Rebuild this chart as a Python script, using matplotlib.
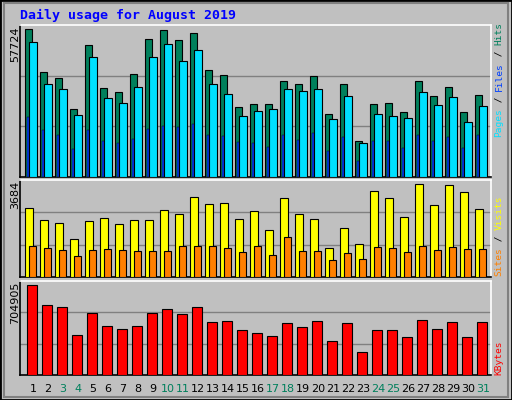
import numpy as np
import matplotlib.pyplot as plt
from matplotlib.patches import Rectangle

days = np.arange(1, 32)
weekend = [3, 4, 10, 11, 17, 18, 24, 25, 31]

hits = [57724, 41233, 38877, 26703, 51444, 34950, 33380, 40448, 53800, 57334, 53407,
        56156, 42019, 40055, 27489, 28667, 28667, 37699, 36521, 39663, 24740, 36521,
        14137, 28667, 29060, 25526, 37699, 31809, 35343, 25526, 32201]
files = [52622, 36521, 34558, 24347, 46731, 31023, 29060, 35343, 46731, 51836, 45161,
         49480, 36521, 32594, 23955, 25918, 26704, 34558, 33772, 34558, 22777, 31809,
         13352, 24740, 23955, 23169, 33380, 28274, 31416, 21599, 27882]
pages = [23562, 18457, 16493, 10996, 18457, 14137, 13352, 14923, 18850, 20028, 19635,
         20813, 16493, 16101, 13745, 13352, 11781, 16493, 14530, 17279, 10210, 15708,
         6283, 14137, 14137, 11388, 16493, 14137, 15708, 11388, 16493]
visits = [2723, 2243, 2123, 1482, 2203, 2323, 2083, 2243, 2243, 2643, 2483, 3164, 2884,
          2924, 2283, 2603, 1842, 3124, 2483, 2283, 1161, 1922, 1322, 3404, 3124, 2363,
          3684, 2844, 3645, 3364, 2683]
sites = [1242, 1161, 1081, 841, 1081, 1121, 1081, 1041, 1041, 1041, 1242, 1242, 1242,
         1161, 1001, 1242, 881, 1562, 1041, 1041, 681, 961, 721, 1202, 1161, 1001, 1242,
         1081, 1202, 1121, 1121]
kbytes = [704905, 549966, 526728, 309840, 480252, 379554, 356316, 379554, 480252,
          511236, 472506, 526728, 410538, 418284, 348570, 325332, 302094, 402792, 371808,
          418284, 263364, 402792, 178158, 348570, 348570, 294348, 426030, 356316, 410538,
          294348, 410538]

W, H = 512, 400
fig = plt.figure(figsize=(W / 100, H / 100), dpi=100)
fig.patch.set_facecolor('#C0C0C0')
# outer border and shadow
fig.add_artist(Rectangle((0, 0), 1, 1, transform=fig.transFigure, fill=False,
                         edgecolor='black', lw=2))
fig.add_artist(Rectangle((4 / W, 3 / H), (W - 8) / W, (H - 6) / H, transform=fig.transFigure,
                         fill=False, edgecolor='#808080', lw=1.5))
mono = 'DejaVu Sans Mono'


def panel(top, bottom):
    ax = fig.add_axes([20 / W, 1 - bottom / H, 471 / W, (bottom - top) / H])
    ax.set_facecolor('#C0C0C0')
    ax.set_xlim(0.13, 31.53)
    ax.set_xticks([])
    ax.set_yticks([])
    for s in ['left', 'bottom']:
        ax.spines[s].set_color('black')
    for s in ['top', 'right']:
        ax.spines[s].set_color('white')
    for s in ax.spines.values():
        s.set_linewidth(1.2)
    return ax


kw = dict(align='edge', edgecolor='black', linewidth=0.8, zorder=3)

ax1 = panel(25, 177)
top1 = 57724 * 454 / 441
ax1.set_ylim(0, top1)
for g in (top1 / 3, 2 * top1 / 3):
    ax1.axhline(g, color='#808080', lw=1, zorder=1)
ax1.bar(days - 0.51, hits, width=0.47, color='#00805C', **kw)
ax1.bar(days - 0.25, files, width=0.48, color='#00E0FF', **kw)
ax1.bar(days - 0.38, pages, width=0.13, color='#0040FF', edgecolor='black', linewidth=0.3,
        align='edge', zorder=4)

ax2 = panel(180, 277)
top2 = 3684 * 287 / 276
ax2.set_ylim(0, top2)
for g in (top2 / 3, 2 * top2 / 3):
    ax2.axhline(g, color='#808080', lw=1, zorder=1)
ax2.bar(days - 0.51, visits, width=0.5, color='#FFFF00', **kw)
ax2.bar(days - 0.25, sites, width=0.47, color='#FF8000', **kw)

ax3 = panel(281, 375)
top3 = 704905 * 284 / 273
ax3.set_ylim(0, top3)
for g in (top3 / 3, 2 * top3 / 3):
    ax3.axhline(g, color='#808080', lw=1, zorder=1)
ax3.bar(days - 0.42, kbytes, width=0.67, color='#FF0000', **kw)
for d in days:
    ax3.text(d, -0.1, str(d), transform=ax3.get_xaxis_transform(), ha='center', va='top',
             fontsize=8, family='DejaVu Sans',
             color='#00805C' if d in weekend else 'black')

# title and side labels
fig.text(20 / W, 1 - 15 / H, 'Daily usage for August 2019', color='#0000FF',
         fontsize=9.5, weight='bold', family=mono, va='center')
for y, txt in [(26, '57724'), (181, '3684'), (282, '704905')]:
    fig.text(15 / W, 1 - y / H, txt, rotation=90, ha='center', va='top',
             fontsize=8, family='DejaVu Sans')


def side(ybot, parts):
    y = 1 - ybot / H
    for txt, col in parts:
        t = fig.text(499 / W, y, txt, rotation=90, ha='center', va='bottom', color=col,
                     fontsize=6.8, family=mono)
        fig.canvas.draw()
        bb = t.get_window_extent()
        y += bb.height / H


side(137, [('Pages', '#00E0FF'), (' / ', 'black'), ('Files', '#0040FF'), (' / ', 'black'),
           ('Hits', '#00805C')])
side(276, [('Sites', '#FF8000'), (' / ', 'black'), ('Visits', '#FFFF00')])
side(375, [('KBytes', '#FF0000')])

fig.savefig('out.png', dpi=100, facecolor=fig.get_facecolor())
